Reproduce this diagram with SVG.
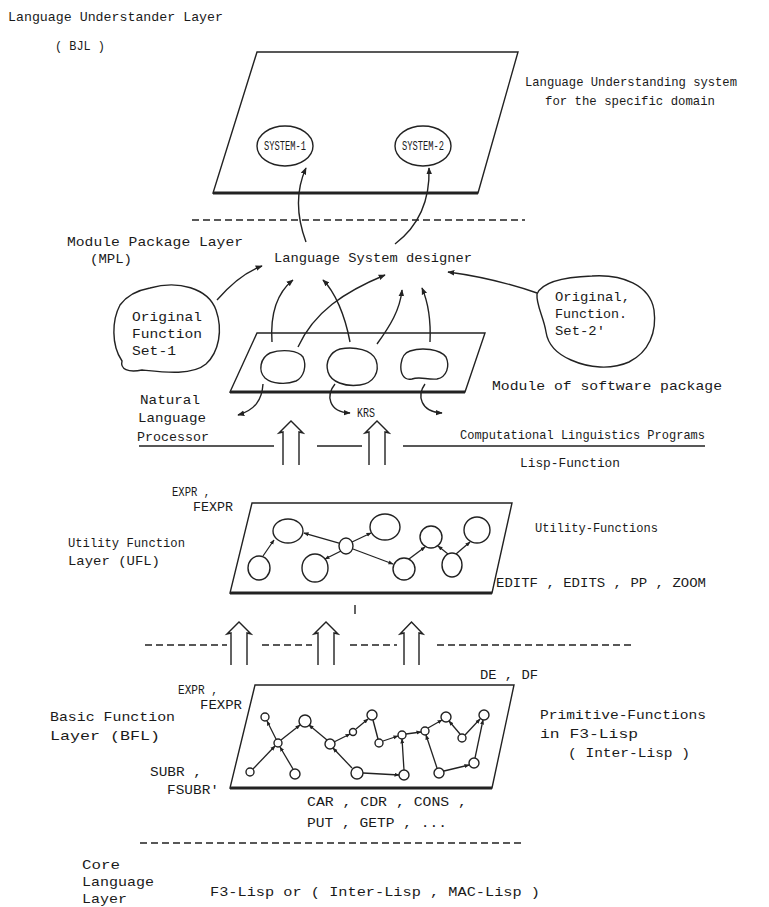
<svg xmlns="http://www.w3.org/2000/svg" width="769" height="907" viewBox="0 0 769 907">
<defs>
<marker id="ah" viewBox="0 0 10 10" refX="9" refY="5" markerWidth="7" markerHeight="7" markerUnits="userSpaceOnUse" orient="auto"><path d="M0,1 L10,5 L0,9 Z" fill="#222"/></marker>
<marker id="ahs" viewBox="0 0 10 10" refX="9" refY="5" markerWidth="5" markerHeight="5" markerUnits="userSpaceOnUse" orient="auto"><path d="M0,1 L10,5 L0,9 Z" fill="#222"/></marker>
</defs>
<style>
text{font-family:"Liberation Mono","DejaVu Sans Mono",monospace;font-size:13px;fill:#1a1a1a}
.sm{font-size:12px}
.ln{fill:none;stroke:#222;stroke-width:1.4}
.thick{fill:none;stroke:#222;stroke-width:3}
.dash{fill:none;stroke:#222;stroke-width:1.3;stroke-dasharray:7 4}
.ar{fill:none;stroke:#222;stroke-width:1.4;marker-end:url(#ah)}
.ars{fill:none;stroke:#222;stroke-width:1.3;marker-end:url(#ahs)}
.nd{fill:#fff;stroke:#222;stroke-width:1.4}
</style>
<rect width="769" height="907" fill="#fff"/>

<g id="labels">
<text x="8" y="21" textLength="215" lengthAdjust="spacingAndGlyphs">Language Understander Layer</text>
<text x="55" y="50" textLength="50" lengthAdjust="spacingAndGlyphs">( BJL )</text>
<text x="525" y="86" textLength="212" lengthAdjust="spacingAndGlyphs">Language Understanding system</text>
<text x="545" y="105" textLength="170" lengthAdjust="spacingAndGlyphs">for the specific domain</text>
<text x="67" y="246" textLength="176" lengthAdjust="spacingAndGlyphs">Module Package Layer</text>
<text x="90" y="263" textLength="42" lengthAdjust="spacingAndGlyphs">(MPL)</text>
<text x="492" y="390" textLength="230" lengthAdjust="spacingAndGlyphs">Module of software package</text>
<text x="140" y="404" textLength="60" lengthAdjust="spacingAndGlyphs">Natural</text>
<text x="138" y="422" textLength="68" lengthAdjust="spacingAndGlyphs">Language</text>
<text x="137" y="441" textLength="72" lengthAdjust="spacingAndGlyphs">Processor</text>
<text x="357" y="417" textLength="18" lengthAdjust="spacingAndGlyphs">KRS</text>
<text x="460" y="439" textLength="245" lengthAdjust="spacingAndGlyphs">Computational Linguistics Programs</text>
<text x="520" y="467" textLength="100" lengthAdjust="spacingAndGlyphs">Lisp-Function</text>
<text x="172" y="496" textLength="38" lengthAdjust="spacingAndGlyphs">EXPR ,</text>
<text x="193" y="511" textLength="40" lengthAdjust="spacingAndGlyphs">FEXPR</text>
<text x="68" y="547" textLength="117" lengthAdjust="spacingAndGlyphs">Utility Function</text>
<text x="68" y="565" textLength="92" lengthAdjust="spacingAndGlyphs">Layer  (UFL)</text>
<text x="535" y="532" textLength="123" lengthAdjust="spacingAndGlyphs">Utility-Functions</text>
<text x="496" y="587" textLength="210" lengthAdjust="spacingAndGlyphs">EDITF , EDITS , PP , ZOOM</text>
<text x="480" y="679" textLength="58" lengthAdjust="spacingAndGlyphs">DE , DF</text>
<text x="178" y="694" textLength="40" lengthAdjust="spacingAndGlyphs">EXPR ,</text>
<text x="200" y="709" textLength="42" lengthAdjust="spacingAndGlyphs">FEXPR</text>
<text x="50" y="721" textLength="125" lengthAdjust="spacingAndGlyphs">Basic Function</text>
<text x="50" y="740" textLength="110" lengthAdjust="spacingAndGlyphs">Layer  (BFL)</text>
<text x="540" y="719" textLength="166" lengthAdjust="spacingAndGlyphs">Primitive-Functions</text>
<text x="540" y="738" textLength="98" lengthAdjust="spacingAndGlyphs">in F3-Lisp</text>
<text x="568" y="757" textLength="122" lengthAdjust="spacingAndGlyphs">( Inter-Lisp )</text>
<text x="150" y="776" textLength="52" lengthAdjust="spacingAndGlyphs">SUBR ,</text>
<text x="167" y="794" textLength="52" lengthAdjust="spacingAndGlyphs">FSUBR'</text>
<text x="307" y="806" textLength="160" lengthAdjust="spacingAndGlyphs">CAR , CDR , CONS ,</text>
<text x="307" y="827" textLength="140" lengthAdjust="spacingAndGlyphs">PUT , GETP , ...</text>
<text x="82" y="869" textLength="38" lengthAdjust="spacingAndGlyphs">Core</text>
<text x="82" y="886" textLength="72" lengthAdjust="spacingAndGlyphs">Language</text>
<text x="82" y="903" textLength="45" lengthAdjust="spacingAndGlyphs">Layer</text>
<text x="210" y="896" textLength="330" lengthAdjust="spacingAndGlyphs">F3-Lisp or ( Inter-Lisp , MAC-Lisp )</text>
</g>

<g id="layer-lines">
<line class="dash" x1="192" y1="220" x2="525" y2="220"/>
<path class="ln" d="M139,446 H274 M317,446 H362 M403,446 H705"/>
<path class="dash" d="M145,645 H227 M262,645 H312 M350,645 H397 M437,645 H632"/>
<line class="dash" x1="140" y1="843" x2="522" y2="843"/>
<line class="ln" x1="355" y1="605" x2="355" y2="614"/>
</g>

<g id="lu-plate">
<polygon class="ln" points="257,52 518,52 478,193 213,193"/>
<line class="thick" x1="213" y1="193" x2="478" y2="193"/>
</g>
<g id="system-1">
<ellipse class="nd" cx="285" cy="146" rx="28" ry="20"/>
<text class="sm" x="285" y="150" text-anchor="middle" textLength="42" lengthAdjust="spacingAndGlyphs">SYSTEM-1</text>
</g>
<g id="system-2">
<ellipse class="nd" cx="423" cy="146" rx="28" ry="20"/>
<text class="sm" x="423" y="150" text-anchor="middle" textLength="42" lengthAdjust="spacingAndGlyphs">SYSTEM-2</text>
</g>

<g id="designer">
<text x="274" y="262" textLength="198" lengthAdjust="spacingAndGlyphs">Language System designer</text>
</g>

<g id="function-set-1">
<path class="ln" d="M150,288 C178,280 208,288 216,310 C223,330 219,352 206,364 C192,376 162,372 142,370 C128,373 120,369 122,361 C111,345 112,320 120,305 C128,294 139,290 150,288 Z"/>
<text x="132" y="321" textLength="70" lengthAdjust="spacingAndGlyphs">Original</text>
<text x="132" y="338" textLength="70" lengthAdjust="spacingAndGlyphs">Function</text>
<text x="132" y="355" textLength="44" lengthAdjust="spacingAndGlyphs">Set-1</text>
</g>
<g id="function-set-2">
<path class="ln" d="M592,276 C622,274 650,285 654,310 C657,332 649,352 629,362 C611,370 589,368 571,360 C557,354 548,345 546,332 C544,318 536,305 537,294 C542,282 566,277 592,276 Z"/>
<text x="555" y="301" textLength="75" lengthAdjust="spacingAndGlyphs">Original,</text>
<text x="555" y="318" textLength="72" lengthAdjust="spacingAndGlyphs">Function.</text>
<text x="555" y="335" textLength="50" lengthAdjust="spacingAndGlyphs">Set-2'</text>
</g>

<g id="module-plate">
<polygon class="ln" points="257,333 485,333 465,392 230,392"/>
<line class="thick" x1="230" y1="392" x2="465" y2="392"/>
<path class="ln" d="M270,353 C282,349 298,350 303,357 C307,366 304,377 296,381 C286,385 272,384 265,378 C258,371 260,358 270,353 Z"/>
<path class="ln" d="M340,349 C355,346 372,350 376,360 C380,372 374,383 360,385 C345,387 331,382 328,372 C325,362 330,352 340,349 Z"/>
<path class="ln" d="M410,351 C422,347 440,349 446,357 C450,366 447,377 437,379 C427,380 420,376 412,379 C403,381 400,372 401,364 C402,357 404,353 410,351 Z"/>
</g>

<g id="utility-plate">
<polygon class="ln" points="252,503 512,503 492,593 230,593"/>
<line class="thick" x1="230" y1="593" x2="492" y2="593"/>
<ellipse class="nd" cx="288" cy="531" rx="15" ry="12"/>
<ellipse class="nd" cx="346" cy="546" rx="7" ry="8"/>
<ellipse class="nd" cx="385" cy="527" rx="15" ry="13"/>
<ellipse class="nd" cx="431" cy="537" rx="11" ry="11"/>
<ellipse class="nd" cx="477" cy="530" rx="13" ry="13"/>
<ellipse class="nd" cx="259" cy="568" rx="11" ry="12"/>
<ellipse class="nd" cx="315" cy="568" rx="13" ry="14"/>
<ellipse class="nd" cx="404" cy="569" rx="11" ry="11"/>
<ellipse class="nd" cx="452" cy="565" rx="10" ry="12"/>
</g>

<g id="basic-plate">
<polygon class="ln" points="255,685 514,685 492,788 230,788"/>
<line class="thick" x1="230" y1="788" x2="492" y2="788"/>
<circle class="nd" cx="265" cy="717" r="4"/>
<circle class="nd" cx="305" cy="721" r="6"/>
<circle class="nd" cx="372" cy="715" r="5"/>
<circle class="nd" cx="278" cy="743" r="4"/>
<circle class="nd" cx="330" cy="744" r="5"/>
<circle class="nd" cx="353" cy="732" r="3.5"/>
<circle class="nd" cx="379" cy="743" r="4"/>
<circle class="nd" cx="402" cy="735" r="4"/>
<circle class="nd" cx="425" cy="731" r="4"/>
<circle class="nd" cx="446" cy="717" r="5"/>
<circle class="nd" cx="462" cy="738" r="4"/>
<circle class="nd" cx="484" cy="715" r="5"/>
<circle class="nd" cx="250" cy="772" r="4"/>
<circle class="nd" cx="295" cy="774" r="5"/>
<circle class="nd" cx="357" cy="773" r="6"/>
<circle class="nd" cx="404" cy="775" r="5"/>
<circle class="nd" cx="439" cy="773" r="5"/>
<circle class="nd" cx="474" cy="763" r="5"/>
</g>

<g id="connectors">
<path class="ar" d="M306,242 C296,215 296,190 306,168"/>
<path class="ar" d="M395,244 C420,225 430,198 429,168"/>
<path class="ar" d="M217,300 C230,285 245,272 262,266"/>
<path class="ar" d="M537,293 C508,283 478,276 448,272"/>
<path class="ar" d="M272,342 C270,312 278,292 293,280"/>
<path class="ar" d="M298,347 C314,312 344,292 385,275"/>
<path class="ar" d="M350,342 C345,315 335,292 323,280"/>
<path class="ar" d="M377,344 C390,326 400,310 402,290"/>
<path class="ar" d="M430,342 C431,320 428,302 422,288"/>
<path class="ar" d="M263,384 C262,400 255,410 238,415"/>
<path class="ar" d="M335,384 C326,395 328,412 350,413"/>
<path class="ar" d="M425,384 C417,395 420,412 442,413"/>
<path class="ln" d="M283,465 V432 L279,433 L291,421 L303,433 L299,432 V465"/>
<path class="ln" d="M369,465 V432 L365,433 L377,421 L389,433 L385,432 V465"/>
<path class="ln" d="M231,665 V633 L227,634 L239,622 L251,634 L247,633 V665"/>
<path class="ln" d="M318,665 V633 L314,634 L326,622 L338,634 L334,633 V665"/>
<path class="ln" d="M404,665 V633 L400,634 L411.5,622 L423,634 L419,633 V665"/>
<line class="ars" x1="263" y1="556" x2="274" y2="540"/>
<line class="ars" x1="339" y1="543" x2="304" y2="533"/>
<line class="ars" x1="352" y1="542" x2="371" y2="533"/>
<line class="ars" x1="341" y1="551" x2="325" y2="559"/>
<line class="ars" x1="353" y1="549" x2="393" y2="564"/>
<line class="ars" x1="409" y1="559" x2="425" y2="547"/>
<line class="ars" x1="448" y1="554" x2="438" y2="546"/>
<line class="ars" x1="456" y1="554" x2="470" y2="542"/>
<line class="ars" x1="253" y1="769" x2="275" y2="746"/>
<line class="ars" x1="293" y1="769" x2="280" y2="747"/>
<line class="ars" x1="276" y1="739" x2="267" y2="721"/>
<line class="ars" x1="281" y1="740" x2="300" y2="725"/>
<line class="ars" x1="327" y1="740" x2="309" y2="725"/>
<line class="ars" x1="334" y1="742" x2="350" y2="734"/>
<line class="ars" x1="356" y1="729" x2="368" y2="719"/>
<line class="ln" x1="373" y1="720" x2="378" y2="739"/>
<line class="ars" x1="383" y1="741" x2="398" y2="736"/>
<line class="ars" x1="406" y1="734" x2="421" y2="732"/>
<line class="ars" x1="428" y1="728" x2="442" y2="720"/>
<line class="ars" x1="460" y1="734" x2="449" y2="721"/>
<line class="ars" x1="465" y1="735" x2="480" y2="719"/>
<line class="ars" x1="352" y1="768" x2="333" y2="748"/>
<line class="ars" x1="363" y1="773" x2="399" y2="775"/>
<line class="ars" x1="404" y1="770" x2="402" y2="739"/>
<line class="ars" x1="437" y1="768" x2="426" y2="735"/>
<line class="ars" x1="444" y1="771" x2="469" y2="765"/>
<line class="ars" x1="475" y1="758" x2="483" y2="720"/>
</g>
</svg>
